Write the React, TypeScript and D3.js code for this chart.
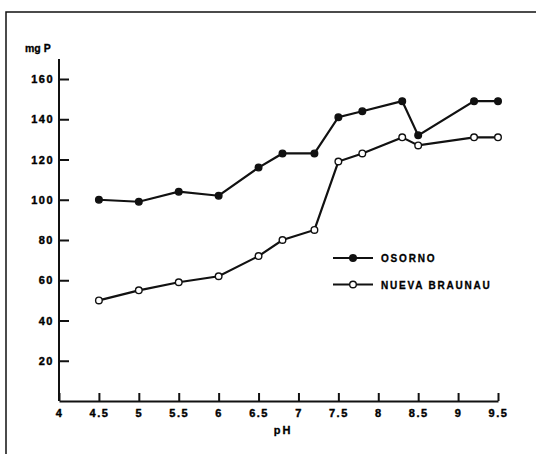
import React, { useEffect, useRef } from "react";
import * as d3 from "d3";

const phOsorno = [4.5, 5, 5.5, 6, 6.5, 6.8, 7.2, 7.5, 7.8, 8.3, 8.5, 9.2, 9.5];
const mgOsorno = [100, 99, 104, 102, 116, 123, 123, 141, 144, 149, 132, 149, 149];
const phBraunau = [4.5, 5, 5.5, 6, 6.5, 6.8, 7.2, 7.5, 7.8, 8.3, 8.5, 9.2, 9.5];
const mgBraunau = [50, 55, 59, 62, 72, 80, 85, 119, 123, 131, 127, 131, 131];
const xTicks = [4, 4.5, 5, 5.5, 6, 6.5, 7, 7.5, 8, 8.5, 9, 9.5];
const yTicks = [20, 40, 60, 80, 100, 120, 140, 160];
const seriesNames = ["OSORNO", "NUEVA BRAUNAU"];

const W = 536;
const H = 454;
const FONT = "'Liberation Sans', Arial, sans-serif";

const App: React.FC = () => {
  const svgRef = useRef<SVGSVGElement | null>(null);

  useEffect(() => {
    if (!svgRef.current) return;
    const svg = d3.select(svgRef.current);
    svg.selectAll("*").remove();

    svg.append("rect").attr("width", W).attr("height", H).attr("fill", "#fff");

    // frame of the scanned figure
    svg
      .append("rect")
      .attr("x", 6)
      .attr("y", 12)
      .attr("width", W + 20)
      .attr("height", H + 20)
      .attr("fill", "none")
      .attr("stroke", "#111")
      .attr("stroke-width", 1.5);

    const x = d3.scaleLinear().domain([4, 9.5]).range([59, 498]);
    const y = d3.scaleLinear().domain([0, 160]).range([401, 79]);

    const yAxis = d3
      .axisLeft(y)
      .tickValues(yTicks)
      .tickSizeInner(-10)
      .tickSizeOuter(0)
      .tickPadding(5)
      .tickFormat((d) => String(d));

    const gy = svg
      .append("g")
      .attr("transform", `translate(${x(4)},0)`)
      .call(yAxis);
    gy.select(".domain").attr("d", `M0,${y(0)}V${y(170)}`);

    const xAxis = d3
      .axisBottom(x)
      .tickValues(xTicks)
      .tickSizeInner(-8)
      .tickSizeOuter(0)
      .tickPadding(8)
      .tickFormat((d) => String(d));

    svg
      .append("g")
      .attr("transform", `translate(0,${y(0)})`)
      .call(xAxis);

    svg
      .selectAll(".domain")
      .attr("stroke", "#111")
      .attr("stroke-width", 2);
    svg.selectAll(".tick line").attr("stroke", "#111").attr("stroke-width", 2);
    svg
      .selectAll(".tick text")
      .attr("fill", "#000")
      .attr("stroke", "#000")
      .attr("stroke-width", 0.4)
      .style("font-family", FONT)
      .style("font-size", "11px")
      .style("font-weight", "bold")
      .style("letter-spacing", "1.5px");

    svg
      .append("text")
      .attr("x", 25)
      .attr("y", 52)
      .attr("fill", "#000")
      .attr("stroke", "#000")
      .attr("stroke-width", 0.3)
      .style("font-family", FONT)
      .style("font-size", "10.5px")
      .style("font-weight", "bold")
      .text("mg P");

    svg
      .append("text")
      .attr("x", 283)
      .attr("y", 434)
      .attr("text-anchor", "middle")
      .attr("fill", "#000")
      .attr("stroke", "#000")
      .attr("stroke-width", 0.3)
      .style("font-family", FONT)
      .style("font-size", "11px")
      .style("font-weight", "bold")
      .style("letter-spacing", "2px")
      .text("pH");

    const line = d3
      .line<[number, number]>()
      .x((d) => x(d[0]))
      .y((d) => y(d[1]));

    const osorno: [number, number][] = phOsorno.map((p, i) => [p, mgOsorno[i]]);
    const braunau: [number, number][] = phBraunau.map((p, i) => [p, mgBraunau[i]]);

    const series = [
      { data: osorno, fill: "#111" },
      { data: braunau, fill: "#fff" },
    ];

    series.forEach((s) => {
      svg
        .append("path")
        .datum(s.data)
        .attr("fill", "none")
        .attr("stroke", "#111")
        .attr("stroke-width", 2.2)
        .attr("d", line);
      svg
        .append("g")
        .selectAll("circle")
        .data(s.data)
        .enter()
        .append("circle")
        .attr("cx", (d) => x(d[0]))
        .attr("cy", (d) => y(d[1]))
        .attr("r", 3.3)
        .attr("fill", s.fill)
        .attr("stroke", "#111")
        .attr("stroke-width", 1.4);
    });

    // legend
    const legend = svg.append("g").attr("transform", "translate(333,258)");
    seriesNames.forEach((name, i) => {
      const gy0 = i * 26.5;
      legend
        .append("line")
        .attr("x1", 0)
        .attr("x2", 40)
        .attr("y1", gy0)
        .attr("y2", gy0)
        .attr("stroke", "#111")
        .attr("stroke-width", 2);
      legend
        .append("circle")
        .attr("cx", 20)
        .attr("cy", gy0)
        .attr("r", 3.3)
        .attr("fill", series[i].fill)
        .attr("stroke", "#111")
        .attr("stroke-width", 1.4);
      legend
        .append("text")
        .attr("x", 48)
        .attr("y", gy0 + 4)
        .attr("fill", "#000")
        .attr("stroke", "#000")
        .attr("stroke-width", 0.3)
        .style("font-family", FONT)
        .style("font-size", "10px")
        .style("font-weight", "bold")
        .style("letter-spacing", "1.8px")
        .text(name);
    });
  }, []);

  return (
    <svg
      ref={svgRef}
      width={W}
      height={H}
      style={{ position: "absolute", left: 0, top: 0 }}
    ></svg>
  );
};

export default App;
